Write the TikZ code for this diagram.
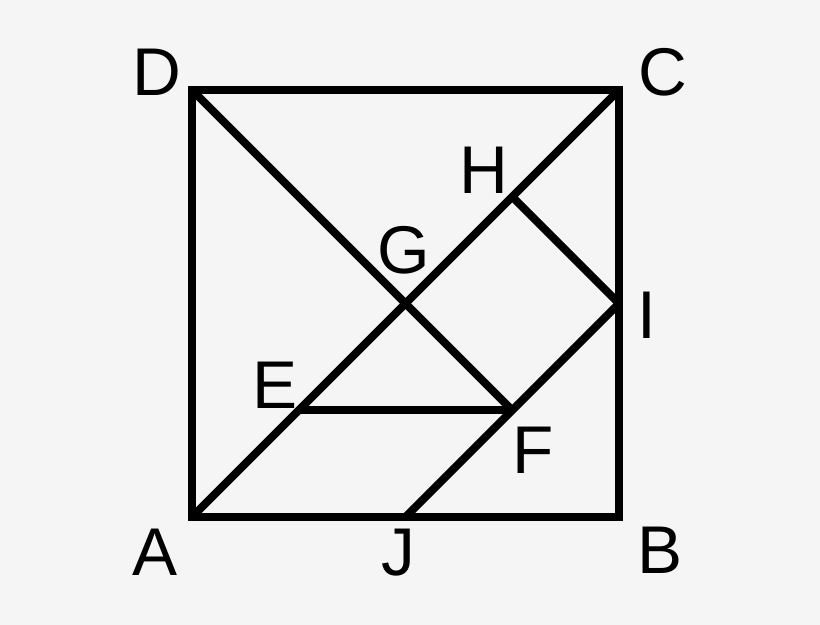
\documentclass[tikz,border=0pt]{standalone}
\usepackage{fontspec}
\setmainfont{Liberation Sans}
\definecolor{paper}{HTML}{F5F5F5}
\tikzset{
  edge/.style={line width=2.1pt, line join=miter},
  lbl/.style={font=\fontsize{18}{21}\selectfont, inner sep=0pt}
}
\begin{document}
\begin{tikzpicture}
        \fill[paper] (-1.799,-1.012) rectangle (5.883,4.843);
        \useasboundingbox (-1.799,-1.012) rectangle (5.883,4.843);
        % corners and inner points
        \coordinate (A) at (0,0);
        \coordinate (B) at (4,0);
        \coordinate (C) at (4,4);
        \coordinate (D) at (0,4);
        \coordinate (E) at (1,1);
        \coordinate (F) at (3,1);
        \coordinate (G) at (2,2);
        \coordinate (H) at (3,3);
        \coordinate (I) at (4,2);
        \coordinate (J) at (2,0);
        \draw[edge] (A)--(B)--(C)--(D)--cycle;
        \draw[edge] (A)--(C);
        \draw[edge] (D)--(F);
        \draw[edge] (E)--(F);
        \draw[edge] (H)--(I);
        \draw[edge] (I)--(J);
        % labels
        \node[lbl] (labD) at (-0.328,4.169) {D};
        \node[lbl] (labC) at (4.412,4.169) {C};
        \node[lbl] (labH) at (2.735,3.251) {H};
        \node[lbl] (labG) at (1.986,2.501) {G};
        \node[lbl] (labI) at (4.262,1.892) {I};
        \node[lbl] (labE) at (0.778,1.237) {E};
        \node[lbl] (labF) at (3.194,0.628) {F};
        \node[lbl] (labA) at (-0.347,-0.328) {A};
        \node[lbl] (labJ) at (1.930,-0.337) {J};
        \node[lbl] (labB) at (4.384,-0.309) {B};
\end{tikzpicture}
\end{document}
